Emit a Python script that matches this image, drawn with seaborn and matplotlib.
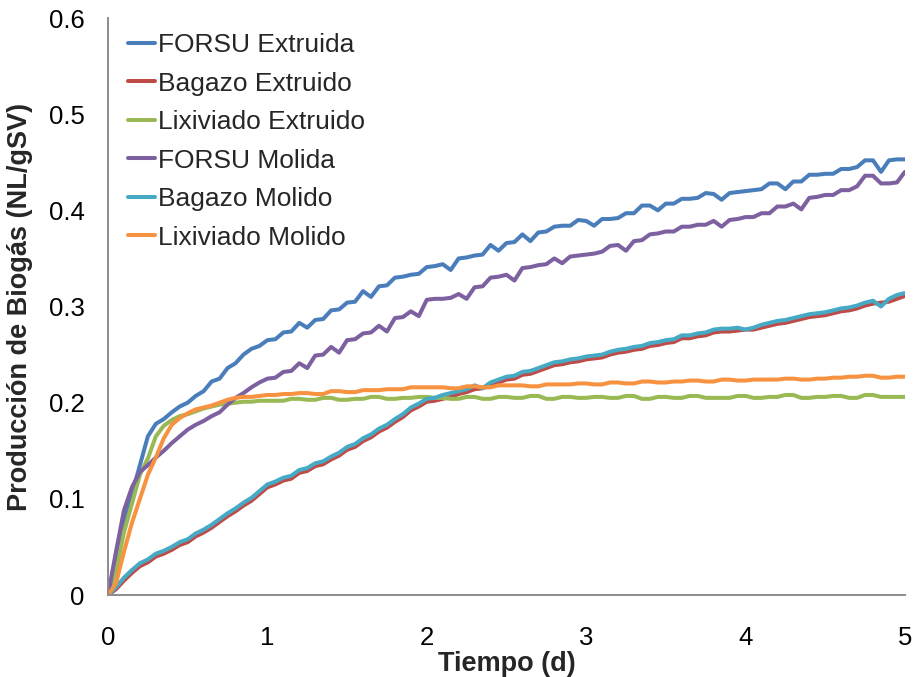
import matplotlib
matplotlib.use("Agg")
import matplotlib.pyplot as plt
import pandas as pd
import seaborn as sns

# Time axis (days)
tiempo = [0.00, 0.05, 0.10, 0.15, 0.20, 0.25, 0.30, 0.35, 0.40, 0.45,
          0.50, 0.55, 0.60, 0.65, 0.70, 0.75, 0.80, 0.85, 0.90, 0.95,
          1.00, 1.05, 1.10, 1.15, 1.20, 1.25, 1.30, 1.35, 1.40, 1.45,
          1.50, 1.55, 1.60, 1.65, 1.70, 1.75, 1.80, 1.85, 1.90, 1.95,
          2.00, 2.05, 2.10, 2.15, 2.20, 2.25, 2.30, 2.35, 2.40, 2.45,
          2.50, 2.55, 2.60, 2.65, 2.70, 2.75, 2.80, 2.85, 2.90, 2.95,
          3.00, 3.05, 3.10, 3.15, 3.20, 3.25, 3.30, 3.35, 3.40, 3.45,
          3.50, 3.55, 3.60, 3.65, 3.70, 3.75, 3.80, 3.85, 3.90, 3.95,
          4.00, 4.05, 4.10, 4.15, 4.20, 4.25, 4.30, 4.35, 4.40, 4.45,
          4.50, 4.55, 4.60, 4.65, 4.70, 4.75, 4.80, 4.85, 4.90, 4.95,
          5.00]

# Cumulative biogas production (NL/gSV)
forsu_extruida = [0.000, 0.035, 0.075, 0.105, 0.135, 0.165, 0.178, 0.183, 0.190, 0.196,
                  0.200, 0.207, 0.212, 0.222, 0.225, 0.236, 0.241, 0.250, 0.256, 0.259,
                  0.265, 0.266, 0.273, 0.274, 0.283, 0.278, 0.286, 0.287, 0.296, 0.297,
                  0.304, 0.305, 0.316, 0.310, 0.321, 0.322, 0.330, 0.331, 0.333, 0.334,
                  0.341, 0.342, 0.344, 0.338, 0.350, 0.351, 0.353, 0.354, 0.364, 0.358,
                  0.366, 0.367, 0.375, 0.368, 0.377, 0.378, 0.383, 0.384, 0.384, 0.390,
                  0.389, 0.384, 0.391, 0.391, 0.392, 0.397, 0.397, 0.405, 0.405, 0.400,
                  0.407, 0.407, 0.412, 0.412, 0.413, 0.418, 0.417, 0.411, 0.418, 0.419,
                  0.420, 0.421, 0.422, 0.428, 0.428, 0.422, 0.430, 0.430, 0.437, 0.437,
                  0.438, 0.438, 0.443, 0.443, 0.445, 0.452, 0.452, 0.440, 0.452, 0.453,
                  0.453]
bagazo_extruido = [0.000, 0.006, 0.015, 0.023, 0.030, 0.034, 0.040, 0.043, 0.047, 0.052,
                   0.055, 0.061, 0.065, 0.070, 0.076, 0.082, 0.087, 0.093, 0.098, 0.105,
                   0.112, 0.115, 0.119, 0.121, 0.127, 0.129, 0.134, 0.136, 0.141, 0.145,
                   0.151, 0.154, 0.160, 0.164, 0.170, 0.174, 0.180, 0.185, 0.192, 0.196,
                   0.201, 0.202, 0.204, 0.206, 0.209, 0.211, 0.214, 0.215, 0.218, 0.221,
                   0.224, 0.225, 0.229, 0.230, 0.233, 0.236, 0.239, 0.240, 0.242, 0.243,
                   0.245, 0.246, 0.247, 0.250, 0.252, 0.253, 0.255, 0.256, 0.259, 0.260,
                   0.262, 0.263, 0.267, 0.267, 0.269, 0.270, 0.273, 0.274, 0.274, 0.275,
                   0.276, 0.276, 0.278, 0.280, 0.282, 0.283, 0.285, 0.287, 0.289, 0.290,
                   0.291, 0.293, 0.295, 0.296, 0.298, 0.301, 0.303, 0.304, 0.305, 0.308,
                   0.311]
lixiviado_extruido = [0.000, 0.025, 0.065, 0.095, 0.125, 0.142, 0.165, 0.176, 0.182, 0.186,
                      0.188, 0.191, 0.194, 0.196, 0.198, 0.199, 0.200, 0.201, 0.201, 0.202,
                      0.202, 0.202, 0.202, 0.204, 0.204, 0.203, 0.203, 0.205, 0.205, 0.203,
                      0.203, 0.204, 0.204, 0.206, 0.206, 0.204, 0.204, 0.205, 0.205, 0.206,
                      0.206, 0.205, 0.205, 0.204, 0.204, 0.206, 0.206, 0.204, 0.204, 0.206,
                      0.206, 0.205, 0.205, 0.207, 0.207, 0.204, 0.204, 0.206, 0.206, 0.205,
                      0.205, 0.206, 0.206, 0.205, 0.205, 0.207, 0.207, 0.204, 0.204, 0.206,
                      0.206, 0.205, 0.205, 0.207, 0.207, 0.205, 0.205, 0.205, 0.205, 0.207,
                      0.207, 0.205, 0.205, 0.206, 0.206, 0.208, 0.208, 0.205, 0.205, 0.206,
                      0.206, 0.207, 0.207, 0.205, 0.205, 0.208, 0.208, 0.206, 0.206, 0.206,
                      0.206]
forsu_molida = [0.000, 0.045, 0.088, 0.112, 0.128, 0.135, 0.143, 0.150, 0.158, 0.165,
                0.172, 0.177, 0.181, 0.186, 0.190, 0.198, 0.205, 0.210, 0.216, 0.221,
                0.225, 0.226, 0.232, 0.233, 0.241, 0.236, 0.249, 0.250, 0.258, 0.252,
                0.265, 0.266, 0.272, 0.273, 0.280, 0.274, 0.288, 0.289, 0.295, 0.290,
                0.307, 0.308, 0.308, 0.309, 0.313, 0.308, 0.320, 0.321, 0.330, 0.331,
                0.333, 0.327, 0.340, 0.341, 0.343, 0.344, 0.350, 0.345, 0.352, 0.353,
                0.354, 0.355, 0.357, 0.363, 0.364, 0.358, 0.368, 0.369, 0.375, 0.376,
                0.378, 0.378, 0.383, 0.383, 0.385, 0.385, 0.389, 0.383, 0.390, 0.391,
                0.393, 0.393, 0.397, 0.397, 0.404, 0.404, 0.407, 0.401, 0.413, 0.414,
                0.416, 0.416, 0.421, 0.421, 0.425, 0.436, 0.436, 0.428, 0.428, 0.429,
                0.440]
bagazo_molido = [0.000, 0.008, 0.018, 0.026, 0.033, 0.037, 0.043, 0.046, 0.050, 0.055,
                 0.058, 0.064, 0.068, 0.073, 0.079, 0.085, 0.090, 0.096, 0.101, 0.108,
                 0.115, 0.118, 0.122, 0.124, 0.130, 0.132, 0.137, 0.139, 0.144, 0.148,
                 0.154, 0.157, 0.163, 0.167, 0.173, 0.177, 0.183, 0.188, 0.195, 0.199,
                 0.204, 0.205, 0.208, 0.210, 0.212, 0.214, 0.218, 0.215, 0.221, 0.224,
                 0.227, 0.228, 0.232, 0.233, 0.236, 0.239, 0.242, 0.243, 0.245, 0.246,
                 0.248, 0.249, 0.250, 0.253, 0.255, 0.256, 0.258, 0.259, 0.262, 0.263,
                 0.265, 0.266, 0.270, 0.270, 0.272, 0.273, 0.276, 0.277, 0.277, 0.278,
                 0.276, 0.278, 0.281, 0.283, 0.285, 0.286, 0.288, 0.290, 0.292, 0.293,
                 0.294, 0.296, 0.298, 0.299, 0.301, 0.304, 0.306, 0.300, 0.308, 0.312,
                 0.314]
lixiviado_molido = [0.000, 0.012, 0.045, 0.075, 0.100, 0.125, 0.143, 0.163, 0.177, 0.184,
                    0.189, 0.193, 0.195, 0.197, 0.200, 0.203, 0.205, 0.206, 0.206, 0.207,
                    0.208, 0.208, 0.209, 0.209, 0.210, 0.210, 0.209, 0.209, 0.212, 0.212,
                    0.211, 0.211, 0.213, 0.213, 0.213, 0.214, 0.214, 0.214, 0.216, 0.216,
                    0.216, 0.216, 0.216, 0.215, 0.215, 0.217, 0.217, 0.216, 0.216, 0.218,
                    0.218, 0.218, 0.218, 0.217, 0.217, 0.219, 0.219, 0.219, 0.219, 0.220,
                    0.220, 0.219, 0.219, 0.221, 0.221, 0.220, 0.220, 0.222, 0.222, 0.221,
                    0.221, 0.222, 0.222, 0.223, 0.223, 0.222, 0.222, 0.224, 0.224, 0.223,
                    0.223, 0.224, 0.224, 0.224, 0.224, 0.225, 0.225, 0.224, 0.224, 0.225,
                    0.225, 0.226, 0.226, 0.227, 0.227, 0.228, 0.228, 0.226, 0.226, 0.227,
                    0.227]

series = {
    "FORSU Extruida": forsu_extruida,
    "Bagazo Extruido": bagazo_extruido,
    "Lixiviado Extruido": lixiviado_extruido,
    "FORSU Molida": forsu_molida,
    "Bagazo Molido": bagazo_molido,
    "Lixiviado Molido": lixiviado_molido,
}
colores = {
    "FORSU Extruida": "#4A7EBB",
    "Bagazo Extruido": "#BE4B48",
    "Lixiviado Extruido": "#98B954",
    "FORSU Molida": "#7D60A0",
    "Bagazo Molido": "#46AAC5",
    "Lixiviado Molido": "#F69240",
}
orden = list(series.keys())

df = pd.concat(
    [pd.DataFrame({"Tiempo": tiempo, "Biogas": v, "Muestra": k}) for k, v in series.items()],
    ignore_index=True,
)

sns.set_theme(style="white")
plt.rcParams["font.family"] = ["Liberation Sans", "DejaVu Sans"]

fig = plt.figure(figsize=(9.17, 6.77), dpi=100)
ax = fig.add_axes([0.1178, 0.1211, 0.869, 0.8523])

sns.lineplot(data=df, x="Tiempo", y="Biogas", hue="Muestra", hue_order=orden,
             palette=colores, linewidth=2.9, ax=ax, sort=False)

ax.set_xlim(0, 5)
ax.set_ylim(0, 0.6)
ax.set_xticks([0, 1, 2, 3, 4, 5])
ax.set_yticks([0, 0.1, 0.2, 0.3, 0.4, 0.5, 0.6])
ax.set_xticklabels(["0", "1", "2", "3", "4", "5"])
ax.set_yticklabels(["0", "0.1", "0.2", "0.3", "0.4", "0.5", "0.6"])
ax.tick_params(axis="both", length=0, labelsize=18.5, colors="black")
ax.tick_params(axis="x", pad=22)
ax.tick_params(axis="y", pad=17)

for s in ["top", "right"]:
    ax.spines[s].set_visible(False)
for s in ["left", "bottom"]:
    ax.spines[s].set_color("#8C8C8C")
    ax.spines[s].set_linewidth(1.4)

ax.set_xlabel("Tiempo (d)", fontsize=19.5, fontweight="bold", labelpad=1)
ax.set_ylabel("Producción de Biogás (NL/gSV)", fontsize=19.5, fontweight="bold", labelpad=11)

leg = ax.legend(loc="upper left", bbox_to_anchor=(0.002, 1.006), frameon=False,
                fontsize=19, handlelength=1.02, handletextpad=0.12,
                labelspacing=0.55, borderaxespad=0.3)
for line in leg.get_lines():
    line.set_linewidth(2.9)

fig.savefig("out.png", dpi=100)
